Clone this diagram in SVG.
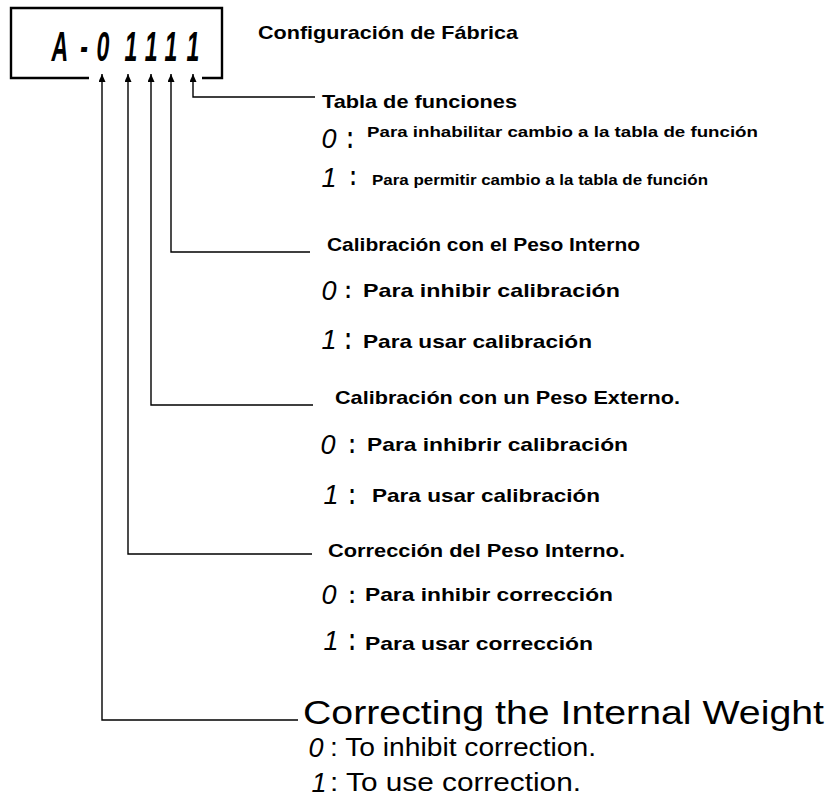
<svg xmlns="http://www.w3.org/2000/svg" width="832" height="803" viewBox="0 0 832 803">
<defs>
<style>
.b{font-family:"Liberation Sans",Arial,sans-serif;font-weight:bold;fill:#000}
.h{font-size:18.5px}
.s{font-size:15px}
.o{font-size:18.5px}
.en{font-family:"Liberation Sans",Arial,sans-serif;fill:#000}
.seg{font-family:"Liberation Sans",Arial,sans-serif;font-style:italic;fill:#000;text-anchor:middle}
.mk{font-size:27px}
.col{font-family:"Liberation Sans",Arial,sans-serif;font-weight:bold;font-size:20px;fill:#000;text-anchor:middle}
.ln{fill:none;stroke:#000;stroke-width:1.4}
</style>
<marker id="ah" markerUnits="userSpaceOnUse" markerWidth="8" markerHeight="7" viewBox="0 0 8 7" refX="8" refY="3.5" orient="auto">
<path d="M0,0 L8,3.5 L0,7 z" fill="#000"/>
</marker>
</defs>
<rect width="832" height="803" fill="#fff"/>

<g id="display">
<path d="M89,78 H11 V8 H222 V78 H202" fill="none" stroke="#000" stroke-width="2.4"/>
<text class="seg" font-weight="bold" font-size="42" transform="scale(0.55,1)" y="61" x="109 153 187 238 275 311 351">A-01111</text>
</g>

<g id="connectors">
<path class="ln" d="M315,97 H193 V74" marker-end="url(#ah)"/>
<path class="ln" d="M310,252 H171 V74" marker-end="url(#ah)"/>
<path class="ln" d="M313,405 H151 V74" marker-end="url(#ah)"/>
<path class="ln" d="M312,554 H128 V74" marker-end="url(#ah)"/>
<path class="ln" d="M298,720 H102 V74" marker-end="url(#ah)"/>
</g>

<g id="title">
<text class="b h" x="258" y="39" textLength="260" lengthAdjust="spacingAndGlyphs">Configuración de Fábrica</text>
</g>

<g id="tabla">
<text class="b h" x="322" y="108" textLength="195" lengthAdjust="spacingAndGlyphs">Tabla de funciones</text>
<text class="seg mk" x="329" y="148">0</text>
<text class="col" transform="translate(350,148) scale(1,1.6)">:</text>
<text class="b s" x="367" y="137" textLength="391" lengthAdjust="spacingAndGlyphs">Para inhabilitar cambio a la tabla de función</text>
<text class="seg mk" x="329" y="187">1</text>
<text class="col" transform="translate(353,185) scale(1,1.4)">:</text>
<text class="b s" x="372" y="185" textLength="336" lengthAdjust="spacingAndGlyphs">Para permitir cambio a la tabla de función</text>
</g>

<g id="cal-interno">
<text class="b h" x="327" y="251" textLength="313" lengthAdjust="spacingAndGlyphs">Calibración con el Peso Interno</text>
<text class="seg mk" x="329" y="300">0</text>
<text class="col" transform="translate(348,298) scale(1,1.2)">:</text>
<text class="b o" x="363" y="297" textLength="257" lengthAdjust="spacingAndGlyphs">Para inhibir calibración</text>
<text class="seg mk" x="329" y="349">1</text>
<text class="col" transform="translate(348,349) scale(1,1.6)">:</text>
<text class="b o" x="363" y="348" textLength="229" lengthAdjust="spacingAndGlyphs">Para usar calibración</text>
</g>

<g id="cal-externo">
<text class="b h" x="335" y="404" textLength="345" lengthAdjust="spacingAndGlyphs">Calibración con un Peso Externo.</text>
<text class="seg mk" x="328" y="454">0</text>
<text class="col" transform="translate(352,453) scale(1,1.4)">:</text>
<text class="b o" x="367" y="451" textLength="261" lengthAdjust="spacingAndGlyphs">Para inhibrir calibración</text>
<text class="seg mk" x="331" y="504">1</text>
<text class="col" transform="translate(352,504) scale(1,1.5)">:</text>
<text class="b o" x="372" y="502" textLength="228" lengthAdjust="spacingAndGlyphs">Para usar calibración</text>
</g>

<g id="correccion">
<text class="b h" x="328" y="557" textLength="297" lengthAdjust="spacingAndGlyphs">Corrección del Peso Interno.</text>
<text class="seg mk" x="329" y="604">0</text>
<text class="col" transform="translate(352,603) scale(1,1.2)">:</text>
<text class="b o" x="365" y="601" textLength="248" lengthAdjust="spacingAndGlyphs">Para inhibir corrección</text>
<text class="seg mk" x="331" y="650">1</text>
<text class="col" transform="translate(352,650) scale(1,1.6)">:</text>
<text class="b o" x="365" y="650" textLength="228" lengthAdjust="spacingAndGlyphs">Para usar corrección</text>
</g>

<g id="correcting">
<text class="en" font-size="34" x="303" y="724" textLength="521" lengthAdjust="spacingAndGlyphs">Correcting the Internal Weight</text>
<text class="seg mk" x="316" y="757">0</text>
<text class="en" font-size="25" x="330" y="756" textLength="266" lengthAdjust="spacingAndGlyphs">: To inhibit  correction.</text>
<text class="seg mk" x="319" y="792">1</text>
<text class="en" font-size="25" x="330" y="791" textLength="251" lengthAdjust="spacingAndGlyphs">: To use correction.</text>
</g>
</svg>
